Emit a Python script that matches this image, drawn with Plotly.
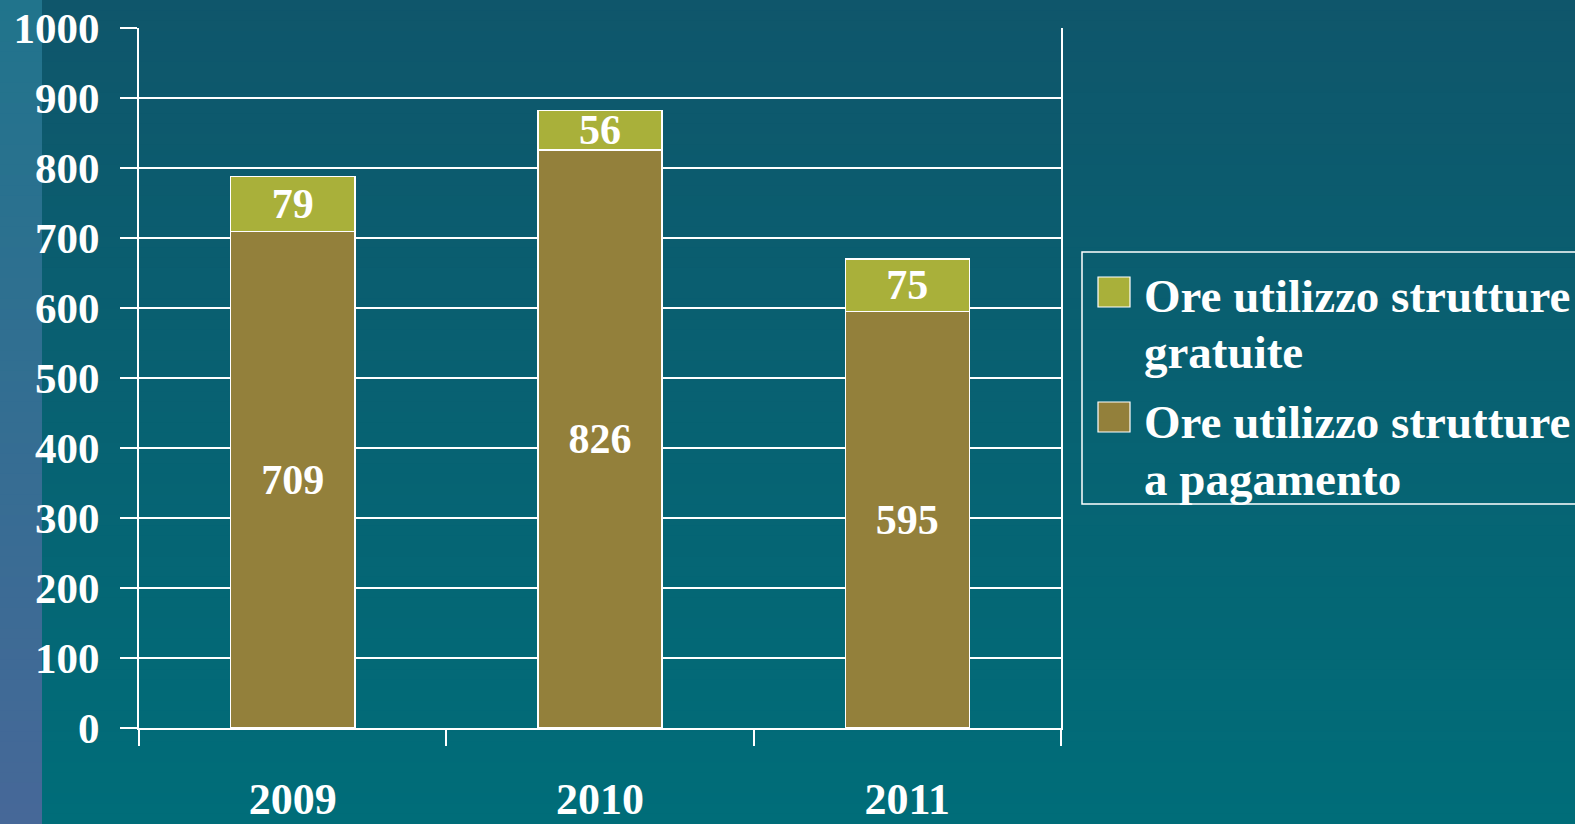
import plotly.graph_objects as go

# ---- data ----
years = ["2009", "2010", "2011"]
ore_pagamento = [709, 826, 595]
ore_gratuite = [79, 56, 75]
name_gratuite = "Ore utilizzo strutture gratuite"
name_pagamento = "Ore utilizzo strutture a pagamento"
y_ticks = [0, 100, 200, 300, 400, 500, 600, 700, 800, 900, 1000]

# ---- style ----
FONT = "Liberation Serif"
COL_PAG = "#93803b"
COL_GRA = "#a9b03a"
W, H = 1575, 824
L, R, T, B = 139, 1061, 28, 728  # plot area in pixels


def px2x(px):
    return (px - L) / (R - L)


def px2y(py):
    return (B - py) / (B - T)


def lerp(c0, c1, t):
    return "rgb(%d,%d,%d)" % tuple(round(a + (b - a) * t) for a, b in zip(c0, c1))


bar_font = dict(family=FONT, size=42, color="white", weight="bold")

fig = go.Figure()
fig.add_bar(
    x=years, y=ore_pagamento, name=name_pagamento,
    marker=dict(color=COL_PAG, line=dict(color="white", width=1.5)),
    text=ore_pagamento, textposition="inside", insidetextanchor="middle",
    textangle=0, textfont=bar_font, showlegend=False,
)
fig.add_bar(
    x=years, y=ore_gratuite, name=name_gratuite,
    marker=dict(color=COL_GRA, line=dict(color="white", width=1.5)),
    text=ore_gratuite, textposition="inside", insidetextanchor="middle",
    textangle=0, textfont=bar_font, showlegend=False,
)

shapes = []
# background gradient (main), then left stripe on top
N = 80
top_c, bot_c = (15, 86, 107), (0, 109, 121)
s_top, s_bot = (33, 116, 140), (70, 104, 152)
for i in range(N):
    py0 = H * i / N
    py1 = H * (i + 1) / N + 1
    t = i / (N - 1)
    shapes.append(dict(type="rect", xref="paper", yref="paper", layer="below",
                       x0=px2x(-5), x1=px2x(W + 5), y0=px2y(py0), y1=px2y(py1),
                       fillcolor=lerp(top_c, bot_c, t), line=dict(width=0)))
for i in range(N):
    py0 = H * i / N
    py1 = H * (i + 1) / N + 1
    t = i / (N - 1)
    shapes.append(dict(type="rect", xref="paper", yref="paper", layer="below",
                       x0=px2x(-5), x1=px2x(42), y0=px2y(py0), y1=px2y(py1),
                       fillcolor=lerp(s_top, s_bot, t), line=dict(width=0)))

# legend box and swatches
shapes.append(dict(type="rect", xref="paper", yref="paper",
                   x0=px2x(1082), x1=px2x(1600), y0=px2y(252), y1=px2y(504),
                   line=dict(color="white", width=1.5), fillcolor="rgba(0,0,0,0)"))
shapes.append(dict(type="rect", xref="paper", yref="paper",
                   x0=px2x(1098), x1=px2x(1130), y0=px2y(277), y1=px2y(307),
                   line=dict(color="white", width=1.2), fillcolor=COL_GRA))
shapes.append(dict(type="rect", xref="paper", yref="paper",
                   x0=px2x(1098), x1=px2x(1130), y0=px2y(402), y1=px2y(432),
                   line=dict(color="white", width=1.2), fillcolor=COL_PAG))

annotations = []
legend_lines = [
    ("Ore utilizzo strutture", 296),
    ("gratuite", 352),
    ("Ore utilizzo strutture", 422),
    ("a pagamento", 479),
]
for txt, yc in legend_lines:
    annotations.append(dict(text=txt, xref="paper", yref="paper",
                            x=px2x(1142), y=px2y(yc), xanchor="left", yanchor="middle",
                            showarrow=False,
                            font=dict(family=FONT, size=47, color="white", weight="bold")))

fig.update_layout(
    width=W, height=H,
    margin=dict(l=L, r=W - R, t=T, b=H - B, pad=0, autoexpand=False),
    barmode="stack", bargap=0.596,
    paper_bgcolor="#06616f", plot_bgcolor="rgba(0,0,0,0)",
    font=dict(family=FONT, color="white"),
    uniformtext=dict(minsize=42, mode="show"),
    shapes=shapes, annotations=annotations,
    showlegend=False,
)
fig.update_xaxes(
    type="category", tickson="boundaries", ticks="outside", ticklen=16,
    tickwidth=2, tickcolor="white", showline=True, linecolor="white", linewidth=2,
    showgrid=False, ticklabelstandoff=31, automargin=False,
    tickfont=dict(family=FONT, size=44, color="white", weight="bold"),
)
fig.update_yaxes(
    range=[0, 1000], tickvals=y_ticks, ticks="outside", ticklen=17, tickwidth=2,
    tickcolor="white", showline=True, linecolor="white", linewidth=2, mirror=True,
    showgrid=True, gridcolor="white", gridwidth=2, zeroline=False,
    ticklabelstandoff=12, automargin=False,
    tickfont=dict(family=FONT, size=43, color="white", weight="bold"),
)

fig.write_html(
    "out.html",
    config={"displayModeBar": False},
    post_script="document.body.style.margin='0';document.body.style.overflow='hidden';",
)
